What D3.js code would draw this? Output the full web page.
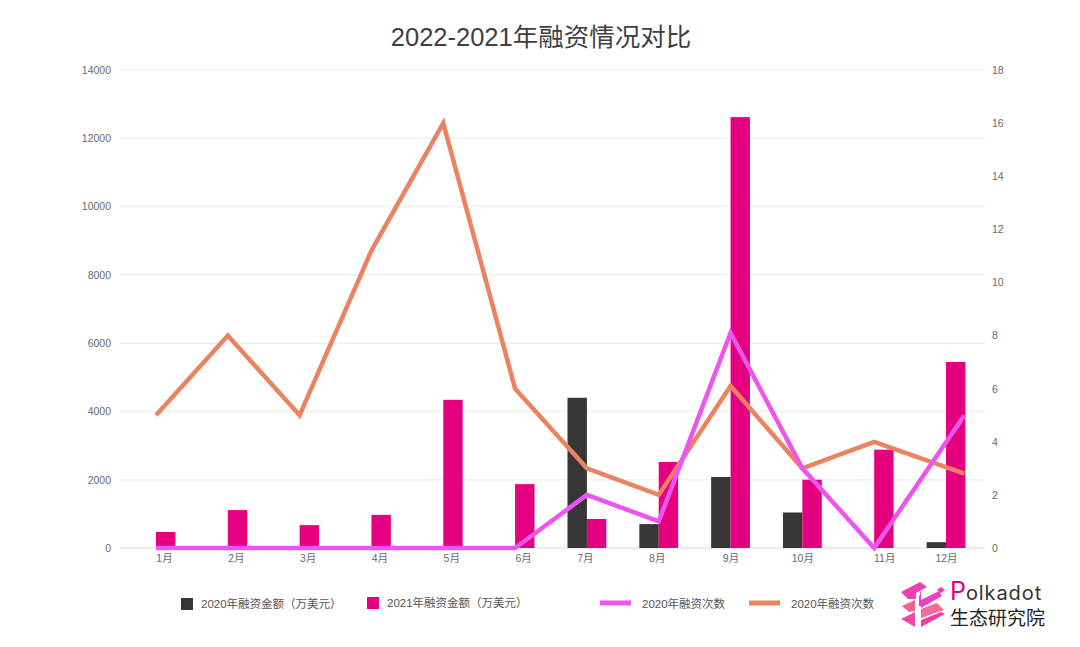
<!DOCTYPE html>
<html>
<head>
<meta charset="utf-8">
<script src="https://d3js.org/d3.v7.min.js"></script>
<style>
body { margin: 0; background: #fff; }
text { font-family: "Liberation Sans", "Noto Sans CJK SC", sans-serif; }
.axis path { display: none; }
.axis text { font-size: 10.5px; fill: #6a6a6a; }
.legend { font-size: 11.5px; fill: #555; }
</style>
</head>
<body>
<svg id="chart" width="1080" height="647"></svg>
<script>
var months = ["1月", "2月", "3月", "4月", "5月", "6月", "7月", "8月", "9月", "10月", "11月", "12月"];
var amount2020 = [0, 0, 0, 0, 0, 0, 4400, 700, 2080, 1040, 0, 170];
var amount2021 = [470, 1110, 670, 970, 4340, 1870, 850, 2520, 12620, 2000, 2880, 5450];
var count2020 = [0, 0, 0, 0, 0, 0, 2, 1, 8.1, 3, 0, 5];
var countOrange = [5, 8, 5, 11.2, 16, 6, 3, 2, 6.1, 3, 4, 2.8];
var leftTicks = [0, 2000, 4000, 6000, 8000, 10000, 12000, 14000];
var rightTicks = [0, 2, 4, 6, 8, 10, 12, 14, 16, 18];

var BAR_WIDTH = 19.4,
	COLOR_DARK = "#383536",
	COLOR_PINK = "#e4007f",
	COLOR_VIOLET = "#ee55ee",
	COLOR_ORANGE = "#ea8360";

var svg = d3.select("#chart");

var x = d3.scalePoint().domain(months).range([156, 946]);
var yLeft = d3.scaleLinear().domain([0, 14000]).range([548, 70]);
var yRight = d3.scaleLinear().domain([0, 18]).range([548, 70]);

svg.append("text")
	.attr("x", 541)
	.attr("y", 46)
	.attr("text-anchor", "middle")
	.style("font-size", "25.5px")
	.style("fill", "#3f3f3f")
	.text("2022-2021年融资情况对比");

// gridlines
svg.append("g").selectAll("line")
	.data(leftTicks)
	.enter()
	.append("line")
	.attr("x1", 120)
	.attr("x2", 985)
	.attr("y1", function(d) { return yLeft(d); })
	.attr("y2", function(d) { return yLeft(d); })
	.style("stroke", function(d) { return d === 0 ? "#e6e6e6" : "#f0f0f0"; })
	.style("stroke-width", 1.5);

svg.append("g")
	.attr("class", "axis")
	.attr("transform", "translate(111,0)")
	.call(d3.axisLeft(yLeft).tickValues(leftTicks).tickSize(0).tickPadding(0).tickFormat(d3.format("d")));

svg.append("g")
	.attr("class", "axis")
	.attr("transform", "translate(992,0)")
	.call(d3.axisRight(yRight).tickValues(rightTicks).tickSize(0).tickPadding(0));

var xAxis = svg.append("g")
	.attr("class", "axis")
	.attr("transform", "translate(0,548)")
	.call(d3.axisBottom(x).tickSize(0).tickPadding(7));

// the month labels were nudged by hand in the original
xAxis.selectAll("text").attr("dx", function(d, i) {
	if (i < 6) return 8;
	if (i == 10) return 10;
	return i < 8 ? -2 : 0;
});

// bars
svg.append("g").selectAll("rect")
	.data(amount2020)
	.enter()
	.append("rect")
	.attr("x", function(d, i) { return x(months[i]) - BAR_WIDTH; })
	.attr("y", function(d) { return yLeft(d); })
	.attr("width", BAR_WIDTH)
	.attr("height", function(d) { return yLeft(0) - yLeft(d); })
	.style("fill", COLOR_DARK);

svg.append("g").selectAll("rect")
	.data(amount2021)
	.enter()
	.append("rect")
	.attr("x", function(d, i) { return x(months[i]); })
	.attr("y", function(d) { return yLeft(d); })
	.attr("width", BAR_WIDTH)
	.attr("height", function(d) { return yLeft(0) - yLeft(d); })
	.style("fill", COLOR_PINK);

// lines, the last point sits on the right edge of the 12月 pink bar
var line = d3.line()
	.x(function(d, i) { return x(months[i]) + (i == 11 ? BAR_WIDTH - 1 : 0); })
	.y(function(d) { return yRight(d); });

svg.append("path")
	.attr("d", line(countOrange))
	.style("fill", "none")
	.style("stroke", COLOR_ORANGE)
	.style("stroke-width", 4.5);

svg.append("path")
	.attr("d", line(count2020))
	.style("fill", "none")
	.style("stroke", COLOR_VIOLET)
	.style("stroke-width", 4.5);

// legend
var legendBars = [
	{ x: 181, y: 598, color: COLOR_DARK, label: "2020年融资金额（万美元）", tx: 201, ty: 608 },
	{ x: 367, y: 597, color: COLOR_PINK, label: "2021年融资金额（万美元）", tx: 387, ty: 607 }
];
legendBars.forEach(function(d) {
	svg.append("rect").attr("x", d.x).attr("y", d.y).attr("width", 12).attr("height", 12).style("fill", d.color);
	svg.append("text").attr("class", "legend").attr("x", d.tx).attr("y", d.ty).text(d.label);
});

var legendLines = [
	{ x1: 600, x2: 631, y: 603, color: COLOR_VIOLET, label: "2020年融资次数", tx: 642, ty: 608 },
	{ x1: 749, x2: 780, y: 603, color: COLOR_ORANGE, label: "2020年融资次数", tx: 791, ty: 608 }
];
legendLines.forEach(function(d) {
	svg.append("line").attr("x1", d.x1).attr("x2", d.x2).attr("y1", d.y).attr("y2", d.y)
		.style("stroke", d.color).style("stroke-width", 5);
	svg.append("text").attr("class", "legend").attr("x", d.tx).attr("y", d.ty).text(d.label);
});

// logo
var logo = svg.append("g");
var logoShapes = [
	{ points: "901,592 920,582 927,587 916,593 916,599 908,599", fill: "#ee3fb4" },
	{ points: "919,597 921,590 921,606 919,606", fill: "#ee3fc0" },
	{ points: "902,606 915,600 915,611 909,612", fill: "#f2628f" },
	{ points: "901,619 915,612 915,627", fill: "#f04aa8" },
	{ points: "921,600 939,591 942,596 921,608", fill: "#ee3fc4" },
	{ points: "921,609 937,603 944,610 921,618", fill: "#f56a96" },
	{ points: "921,620 941,612 945,614 921,627", fill: "#ee3fb0" },
	{ points: "937,590 941,587 945,590 941,593", fill: "#ee3fc4" }
];
logo.selectAll("polygon")
	.data(logoShapes)
	.enter()
	.append("polygon")
	.attr("points", function(d) { return d.points; })
	.style("fill", function(d) { return d.fill; });

var logoName = logo.append("text").attr("x", 950).attr("y", 600)
	.style("font-family", "Inter, sans-serif");
logoName.append("tspan").style("font-size", "25px").style("fill", COLOR_PINK).text("P");
logoName.append("tspan").style("font-size", "20px").style("letter-spacing", "0.9px").style("fill", "#333").text("olkadot");

logo.append("text").attr("x", 950).attr("y", 625)
	.style("font-family", "'Noto Sans CJK SC'").style("font-size", "19px").style("fill", "#222").text("生态研究院");
</script>
</body>
</html>
